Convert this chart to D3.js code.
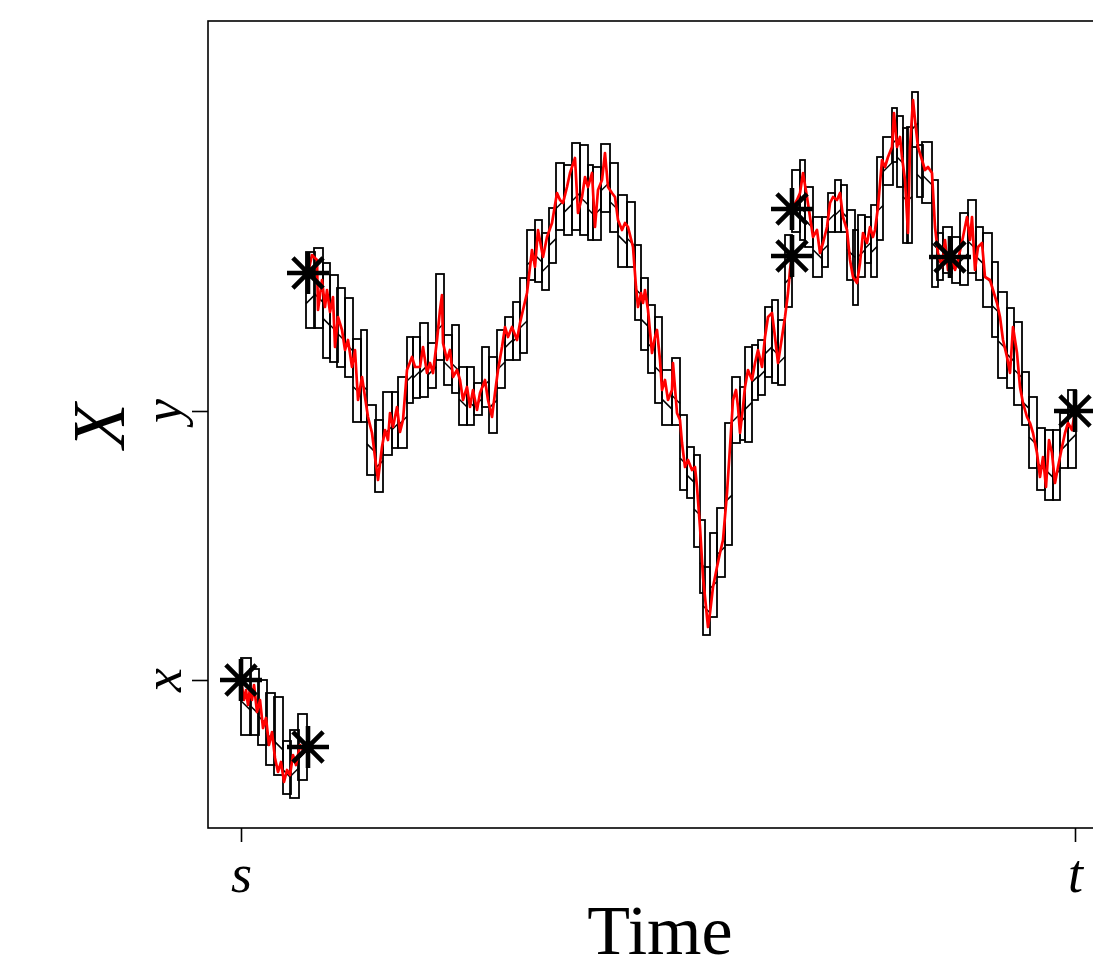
<!DOCTYPE html>
<html><head><meta charset="utf-8">
<script src="https://cdn.jsdelivr.net/npm/d3@7"></script>
<style>body{margin:0;background:#fff}svg{display:block}</style>
</head><body><svg id="c" width="1093" height="970"></svg>
<script>
// ---- data (arbitrary units: time s..t, state x..y) ----
const timeTicks = [0, 8.34];
const timeTickLabels = ["s", "t"];
const valueTicks = [0, 2.69];
const valueTickLabels = ["x", "y"];

// red sample path, three pieces separated by jumps: [time, value]
const pathA = [[0.00,0.00],[0.03,-0.20],[0.05,-0.10],[0.07,-0.25],[0.09,-0.08],[0.11,-0.20],[0.13,-0.05],[0.16,-0.32],[0.19,-0.20],[0.22,-0.48],[0.25,-0.38],[0.28,-0.65],[0.31,-0.52],[0.34,-0.78],[0.37,-0.92],[0.40,-0.82],[0.43,-1.02],[0.46,-0.90],[0.49,-0.95],[0.52,-0.75],[0.55,-0.85],[0.59,-0.65],[0.63,-0.72],[0.67,-0.67]];
const pathB = [[0.67,4.07],[0.71,4.25],[0.76,4.20],[0.77,3.70],[0.81,4.00],[0.84,3.73],[0.86,3.90],[0.89,3.68],[0.92,3.83],[0.94,3.33],[0.97,3.63],[1.01,3.50],[1.04,3.30],[1.07,3.40],[1.11,3.13],[1.14,3.30],[1.17,2.80],[1.21,3.03],[1.24,2.83],[1.27,2.63],[1.31,2.47],[1.34,2.23],[1.37,2.00],[1.41,2.33],[1.44,2.50],[1.47,2.40],[1.49,2.67],[1.52,2.53],[1.56,2.73],[1.59,2.48],[1.62,2.60],[1.66,3.10],[1.71,3.23],[1.74,3.13],[1.79,3.13],[1.82,3.33],[1.86,3.07],[1.89,3.17],[1.92,3.07],[1.96,3.40],[1.99,3.70],[2.01,3.85],[2.02,3.37],[2.06,3.20],[2.09,3.30],[2.12,3.03],[2.16,3.10],[2.19,3.00],[2.22,2.80],[2.26,2.93],[2.29,2.73],[2.32,2.90],[2.36,2.70],[2.39,2.87],[2.44,3.00],[2.47,2.80],[2.51,2.63],[2.54,2.87],[2.57,3.10],[2.61,3.33],[2.64,3.53],[2.67,3.43],[2.71,3.53],[2.76,3.40],[2.79,3.57],[2.82,3.70],[2.86,3.87],[2.89,4.13],[2.91,4.30],[2.94,4.13],[2.97,4.50],[3.02,4.23],[3.06,4.43],[3.11,4.57],[3.16,4.87],[3.19,4.80],[3.22,4.77],[3.26,4.93],[3.29,5.07],[3.34,5.22],[3.37,4.67],[3.41,4.83],[3.44,5.03],[3.47,4.93],[3.51,5.07],[3.54,4.53],[3.57,4.90],[3.61,5.00],[3.64,5.27],[3.67,4.93],[3.71,4.87],[3.74,4.83],[3.77,4.60],[3.81,4.50],[3.84,4.57],[3.87,4.53],[3.92,4.33],[3.95,3.93],[3.97,3.73],[4.00,3.87],[4.02,3.77],[4.04,3.90],[4.07,3.70],[4.11,3.27],[4.14,3.43],[4.16,3.50],[4.19,3.20],[4.21,2.90],[4.24,3.00],[4.27,2.80],[4.31,2.90],[4.32,3.17],[4.36,2.67],[4.39,2.60],[4.41,2.37],[4.44,2.13],[4.47,2.20],[4.51,2.10],[4.54,2.13],[4.56,1.93],[4.59,1.53],[4.62,1.03],[4.65,0.73],[4.67,0.53],[4.69,0.67],[4.72,0.93],[4.76,1.13],[4.79,1.27],[4.82,1.40],[4.86,1.87],[4.89,2.33],[4.92,2.80],[4.95,2.90],[4.97,2.73],[4.99,2.47],[5.02,2.73],[5.04,2.93],[5.07,3.10],[5.11,3.00],[5.14,3.17],[5.17,3.30],[5.21,3.13],[5.24,3.43],[5.27,3.63],[5.31,3.67],[5.34,3.43],[5.37,3.17],[5.41,3.43],[5.44,3.63],[5.47,3.87],[5.49,4.10],[5.51,4.24]];
const pathC = [[5.51,4.71],[5.56,4.80],[5.59,4.87],[5.62,5.07],[5.66,4.83],[5.69,4.63],[5.72,4.43],[5.76,4.50],[5.79,4.27],[5.82,4.37],[5.86,4.53],[5.89,4.77],[5.92,4.83],[5.96,4.80],[5.99,4.87],[6.02,4.63],[6.06,4.50],[6.09,4.20],[6.12,4.03],[6.16,3.97],[6.19,4.17],[6.22,4.47],[6.26,4.37],[6.29,4.53],[6.32,4.43],[6.34,4.50],[6.37,4.73],[6.41,5.20],[6.44,5.13],[6.47,5.23],[6.51,5.33],[6.53,5.67],[6.56,5.33],[6.59,5.43],[6.61,5.23],[6.64,5.00],[6.67,4.47],[6.69,5.33],[6.72,5.80],[6.74,5.60],[6.77,5.33],[6.81,5.20],[6.84,5.10],[6.87,5.13],[6.91,5.07],[6.94,4.53],[6.97,4.27],[7.01,4.13],[7.04,4.40],[7.07,4.10],[7.11,4.23],[7.14,4.10],[7.17,4.20],[7.22,4.43],[7.26,4.63],[7.29,4.40],[7.31,4.63],[7.34,4.10],[7.37,4.33],[7.41,4.37],[7.44,4.03],[7.49,4.00],[7.52,3.90],[7.56,3.77],[7.59,3.63],[7.62,3.40],[7.66,3.23],[7.69,3.07],[7.72,3.53],[7.76,3.27],[7.79,2.93],[7.82,2.77],[7.86,2.63],[7.89,2.57],[7.92,2.47],[7.96,2.27],[7.99,2.03],[8.02,2.23],[8.05,1.93],[8.08,2.40],[8.11,2.27],[8.14,1.97],[8.17,2.13],[8.21,2.33],[8.24,2.47],[8.27,2.57],[8.31,2.50],[8.34,2.69]];

// bounding boxes: [t0, t1, lower, upper]
const boxesA = [[0.00,0.10,-0.55,0.22],[0.09,0.18,-0.55,0.11],[0.17,0.26,-0.65,0.00],[0.25,0.34,-0.85,-0.13],[0.33,0.42,-0.95,-0.17],[0.42,0.50,-1.14,-0.61],[0.49,0.58,-1.18,-0.50],[0.57,0.66,-1.00,-0.34]];
const boxesB = [[0.65,0.74,3.52,4.28],[0.73,0.82,3.52,4.32],[0.82,0.89,3.22,4.17],[0.89,0.97,3.18,4.05],[0.96,1.04,3.13,3.92],[1.04,1.12,3.03,3.82],[1.12,1.20,2.58,3.41],[1.20,1.26,2.58,3.50],[1.26,1.35,2.05,2.75],[1.34,1.42,1.88,2.60],[1.42,1.51,2.25,2.88],[1.51,1.57,2.32,2.88],[1.57,1.66,2.32,3.03],[1.66,1.72,2.77,3.43],[1.72,1.79,2.82,3.43],[1.79,1.87,2.83,3.57],[1.87,1.95,2.92,3.37],[1.95,2.03,3.20,4.06],[2.03,2.11,2.95,3.45],[2.11,2.18,2.87,3.55],[2.18,2.26,2.55,3.13],[2.26,2.33,2.55,3.13],[2.33,2.41,2.65,2.97],[2.41,2.48,2.73,3.33],[2.48,2.56,2.47,3.23],[2.56,2.64,2.92,3.50],[2.64,2.72,3.20,3.63],[2.72,2.79,3.20,3.78],[2.79,2.86,3.27,4.02],[2.86,2.94,4.00,4.50],[2.94,3.01,3.98,4.60],[3.01,3.08,3.90,4.47],[3.08,3.15,4.17,4.72],[3.15,3.23,4.50,5.17],[3.23,3.31,4.45,5.15],[3.31,3.39,4.50,5.37],[3.39,3.47,4.45,5.35],[3.47,3.52,4.40,5.15],[3.52,3.60,4.40,5.13],[3.60,3.69,4.68,5.36],[3.69,3.77,4.48,5.17],[3.77,3.86,4.13,4.85],[3.86,3.94,4.13,4.78],[3.94,4.00,3.60,4.35],[4.00,4.07,3.30,4.02],[4.07,4.14,3.07,3.75],[4.14,4.21,2.77,3.63],[4.21,4.31,2.55,3.10],[4.31,4.39,2.55,3.22],[4.39,4.46,1.90,2.65],[4.46,4.53,1.82,2.33],[4.53,4.59,1.33,2.25],[4.59,4.64,0.87,1.60],[4.62,4.69,0.45,1.13],[4.69,4.76,0.63,1.47],[4.76,4.84,1.03,1.72],[4.84,4.91,1.35,2.57],[4.91,4.99,2.37,3.03],[4.99,5.04,2.40,2.93],[5.04,5.11,2.38,3.33],[5.11,5.17,2.80,3.35],[5.17,5.24,2.85,3.40],[5.24,5.31,3.03,3.73],[5.31,5.37,2.97,3.80],[5.37,5.44,2.95,3.60],[5.44,5.51,3.73,4.45]];
const boxesC = [[5.51,5.59,4.48,5.10],[5.59,5.64,4.40,5.20],[5.64,5.72,4.33,4.93],[5.72,5.81,4.03,4.63],[5.81,5.87,4.13,4.63],[5.87,5.94,4.48,4.87],[5.94,6.00,4.48,5.00],[6.00,6.06,4.48,4.95],[6.06,6.14,4.00,4.70],[6.12,6.17,3.75,4.50],[6.17,6.24,4.03,4.65],[6.24,6.30,4.17,4.63],[6.30,6.36,4.03,4.75],[6.36,6.42,4.40,5.23],[6.42,6.52,4.95,5.43],[6.51,6.56,5.18,5.72],[6.56,6.62,4.93,5.64],[6.62,6.67,4.37,5.52],[6.66,6.71,4.37,5.53],[6.71,6.77,5.33,5.88],[6.76,6.82,4.83,5.35],[6.81,6.91,4.77,5.38],[6.91,6.97,3.93,5.00],[6.96,7.02,4.00,4.47],[7.02,7.11,4.07,4.53],[7.11,7.19,3.97,4.43],[7.19,7.27,3.95,4.67],[7.27,7.35,4.07,4.80],[7.35,7.42,4.00,4.53],[7.42,7.51,3.73,4.47],[7.51,7.57,3.43,4.18],[7.57,7.66,3.02,3.88],[7.66,7.73,2.92,3.72],[7.73,7.81,2.75,3.58],[7.81,7.88,2.55,3.08],[7.88,7.96,2.12,2.83],[7.96,8.04,1.90,2.52],[8.04,8.12,1.80,2.50],[8.12,8.19,1.80,2.50],[8.19,8.27,2.12,2.67],[8.27,8.35,2.12,2.90]];

// skeleton points marked with asterisks
const markTimes  = [0.00, 0.67, 0.67, 5.51, 5.51, 7.09, 8.34];
const markValues = [0.00, -0.67, 4.07, 4.24, 4.71, 4.23, 2.69];

// ---- drawing ----
const plot = {left: 208, right: 1108, top: 21, bottom: 828};
const xs = d3.scaleLinear().domain([-0.33, 8.67]).range([plot.left, plot.right]);
const ys = d3.scaleLinear().domain([-1.48, 6.59]).range([plot.bottom, plot.top]);
const svg = d3.select("#c");
const serif = "'Liberation Serif','Times New Roman',serif";

const g = svg.append("g");

// boxes + diagonal marks
[boxesA, boxesB, boxesC].forEach(boxes => {
  boxes.forEach((b, i) => {
    const x0 = xs(b[0]), x1 = xs(b[1]), yt = ys(b[3]), yb = ys(b[2]);
    g.append("rect").attr("x", x0).attr("y", yt).attr("width", x1 - x0).attr("height", yb - yt)
      .attr("fill", "none").attr("stroke", "#000").attr("stroke-width", 1.8);
    const prev = boxes[i - 1] || b, next = boxes[i + 1] || b;
    const trend = (next[2] + next[3]) - (prev[2] + prev[3]);
    const w = x1 - x0, h = yb - yt;
    const yc = yt + 0.62 * h;
    const d = Math.min(w, h * 0.3) / 2;
    const ln = g.append("line").attr("class", "diag");
    if (trend < 0) {
      ln.attr("x1", x0).attr("y1", yc - d).attr("x2", x1).attr("y2", yc + d);
    } else {
      ln.attr("x1", x0).attr("y1", yc + d).attr("x2", x1).attr("y2", yc - d);
    }
  });
});
g.selectAll("line.diag").attr("stroke", "#000").attr("stroke-width", 1.5);

// red path
const line = d3.line().x(d => xs(d[0])).y(d => ys(d[1]));
[pathA, pathB, pathC].forEach(p => {
  g.append("path").attr("d", line(p)).attr("fill", "none").attr("stroke", "#ff0000")
    .attr("stroke-width", 2.7).attr("stroke-linejoin", "round");
});

// asterisks
const r = 21, rd = r * 0.72;
markTimes.forEach((t, i) => {
  const cx = xs(t), cy = ys(markValues[i]);
  g.append("path")
    .attr("d", `M${cx - r},${cy}H${cx + r}M${cx},${cy - r}V${cy + r}M${cx - rd},${cy - rd}L${cx + rd},${cy + rd}M${cx - rd},${cy + rd}L${cx + rd},${cy - rd}`)
    .attr("stroke", "#000").attr("stroke-width", 4.6).attr("fill", "none");
});

// frame
svg.append("rect").attr("x", plot.left).attr("y", plot.top)
  .attr("width", plot.right - plot.left).attr("height", plot.bottom - plot.top)
  .attr("fill", "none").attr("stroke", "#000").attr("stroke-width", 1.6);

// x axis
const xa = svg.append("g").attr("transform", `translate(0,${plot.bottom})`)
  .call(d3.axisBottom(xs).tickValues(timeTicks).tickFormat((d, i) => timeTickLabels[i]).tickSize(14).tickSizeOuter(0));
xa.select(".domain").remove();
xa.selectAll("line").attr("stroke", "#000").attr("stroke-width", 1.6);
xa.selectAll("text").attr("font-family", serif).attr("font-style", "italic").attr("font-size", 54)
  .attr("fill", "#000").attr("dy", null).attr("y", 64);

// y axis
const ya = svg.append("g").attr("transform", `translate(${plot.left},0)`)
  .call(d3.axisLeft(ys).tickValues(valueTicks).tickFormat((d, i) => valueTickLabels[i]).tickSize(16).tickSizeOuter(0));
ya.select(".domain").remove();
ya.selectAll("line").attr("stroke", "#000").attr("stroke-width", 1.6);
ya.selectAll("text").remove();
valueTicks.forEach((v, i) => {
  const gg = svg.append("g").attr("transform", `translate(163,${ys(v)}) rotate(-90)`);
  const t = gg.append("text").text(valueTickLabels[i]).attr("font-family", serif).attr("font-style", "italic")
    .attr("font-size", 54).attr("text-anchor", "middle").attr("fill", "#000");
  const bb = t.node().getBBox();
  t.attr("y", -(bb.y + bb.height / 2));
});

// axis titles
svg.append("text").text("Time").attr("x", 660).attr("y", 954).attr("text-anchor", "middle")
  .attr("font-family", serif).attr("font-size", 70).attr("fill", "#000");
const xt = svg.append("g").attr("transform", `translate(99,426) rotate(-90)`);
const xtt = xt.append("text").text("X").attr("text-anchor", "middle").attr("font-family", serif)
  .attr("font-style", "italic").attr("font-size", 74).attr("fill", "#000");
const xb = xtt.node().getBBox();
xtt.attr("y", -(xb.y + xb.height / 2));
</script>
</body></html>
